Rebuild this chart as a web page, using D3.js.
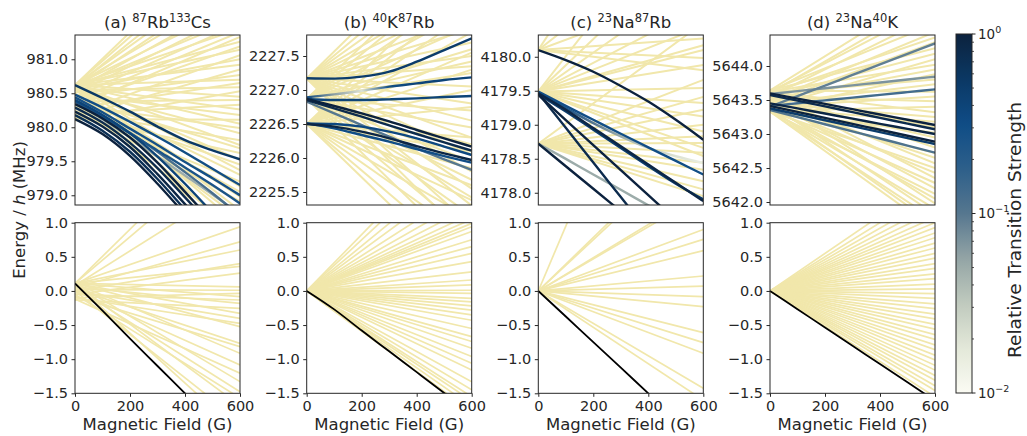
<!DOCTYPE html>
<html>
<head>
<meta charset="utf-8">
<script src="https://cdn.jsdelivr.net/npm/d3@7"></script>
<style>
  body { margin: 0; background: #fff; }
  svg text { font-family: "DejaVu Sans", sans-serif; fill: #262626; }
</style>
</head>
<body>
<svg id="chart" width="1027" height="436"></svg>
<script>
// ---- axes, ticks and labels ----
const fieldTicks = [0, 200, 400, 600];
const panelTags = ["(a) ", "(b) ", "(c) ", "(d) "];
const massNumbers = [["87", "133"], ["40", "87"], ["23", "87"], ["23", "40"]];
const atomSymbols = [["Rb", "Cs"], ["K", "Rb"], ["Na", "Rb"], ["Na", "K"]];
const upperRanges = [[978.857, 981.357], [2225.309, 2227.809], [4177.82, 4180.32], [5641.956, 5644.456]];
const upperTicks = [
  [979.0, 979.5, 980.0, 980.5, 981.0],
  [2225.5, 2226.0, 2226.5, 2227.0, 2227.5],
  [4178.0, 4178.5, 4179.0, 4179.5, 4180.0],
  [5642.0, 5642.5, 5643.0, 5643.5, 5644.0]
];
const lowerRange = [-1.5, 1.0];
const lowerTicks = [-1.5, -1.0, -0.5, 0.0, 0.5, 1.0];
const strengthMajor = [0.01, 0.1, 1];
const strengthExponents = ["\u22122", "\u22121", "0"];
const strengthMinor = [0.02, 0.03, 0.04, 0.05, 0.06, 0.07, 0.08, 0.09, 0.2, 0.3, 0.4, 0.5, 0.6, 0.7, 0.8, 0.9];
const strengthColours = ["#fbfbf3", "#e3e8d9", "#c0cabe", "#93a4a5", "#56778f", "#2d5f8a", "#0f4c86", "#0b3864", "#0c223e"];
const weakColour = "#f1e7ab";

// ---- excited-state levels (MHz), weak transitions: [E at 0 G, E at 600 G] ----
const paleRbCs = [
  [980.62, 982.95], [980.62, 982.75], [980.60, 982.55], [980.62, 982.35], [980.58, 982.20], [980.62, 982.05],
  [980.55, 981.90], [980.62, 981.80], [980.50, 981.70], [980.60, 981.60], [980.45, 981.52], [980.62, 981.45],
  [980.40, 981.40], [980.30, 981.33], [980.62, 981.26], [980.35, 981.19], [980.62, 981.14], [980.20, 981.06],
  [980.55, 981.00], [980.62, 980.92], [980.15, 980.85], [980.45, 980.77], [980.62, 980.70], [980.28, 980.65],
  [980.55, 980.59], [980.10, 980.53], [980.62, 980.45], [980.38, 980.40], [980.20, 980.33], [980.60, 980.26],
  [980.48, 980.18], [980.12, 980.11], [980.62, 980.05], [980.32, 979.99], [980.55, 979.91], [980.22, 979.81],
  [980.62, 979.74], [980.42, 979.69], [980.15, 979.62], [980.58, 979.52], [980.30, 979.45], [980.62, 979.37],
  [980.48, 979.30], [980.20, 979.20], [980.62, 979.13], [980.38, 979.05], [980.55, 978.98], [980.25, 978.91],
  [980.62, 978.78], [980.45, 978.66], [980.60, 978.55], [980.35, 978.45], [980.62, 978.36], [980.50, 978.28]
];
const paleKRb = [
  [2227.17, 2229.55], [2227.17, 2229.20], [2227.17, 2228.90], [2227.17, 2228.60], [2227.17, 2228.35],
  [2227.17, 2228.10], [2227.17, 2227.90], [2227.17, 2227.70], [2227.17, 2227.50], [2227.17, 2227.35],
  [2227.17, 2227.05], [2227.17, 2226.80], [2227.17, 2226.55], [2227.17, 2226.30], [2227.17, 2226.05],
  [2227.17, 2225.80], [2227.17, 2225.55], [2227.17, 2225.30], [2227.17, 2225.00], [2227.17, 2224.75],
  [2226.87, 2229.20], [2226.87, 2228.85], [2226.87, 2228.50], [2226.87, 2228.20], [2226.87, 2227.95],
  [2226.87, 2227.60], [2226.87, 2227.42], [2226.87, 2227.25], [2226.87, 2226.70], [2226.87, 2226.45],
  [2226.87, 2226.20], [2226.87, 2225.95], [2226.87, 2225.68], [2226.87, 2225.42], [2226.87, 2225.15],
  [2226.87, 2224.85], [2226.87, 2224.50],
  [2226.50, 2228.80], [2226.50, 2228.45], [2226.50, 2228.15], [2226.50, 2227.85], [2226.50, 2227.55],
  [2226.50, 2227.30], [2226.50, 2227.00], [2226.50, 2226.75], [2226.50, 2226.30], [2226.50, 2226.10],
  [2226.50, 2225.85], [2226.50, 2225.60], [2226.50, 2225.38], [2226.50, 2225.10], [2226.50, 2224.80],
  [2226.50, 2224.45], [2226.50, 2224.15]
];
const paleNaRb = [
  [4180.10, 4183.80], [4180.10, 4182.00], [4180.10, 4181.00], [4180.10, 4180.27], [4180.10, 4179.98], [4180.10, 4179.80],
  [4179.49, 4182.60], [4179.49, 4181.80], [4179.49, 4181.20], [4179.49, 4180.75], [4179.49, 4180.45], [4179.49, 4180.17],
  [4179.49, 4180.10], [4179.49, 4179.88], [4179.49, 4179.54], [4179.49, 4179.32], [4179.49, 4179.12], [4179.49, 4178.90],
  [4179.49, 4178.66], [4179.49, 4178.54],
  [4178.72, 4180.50], [4178.72, 4179.66], [4178.72, 4179.41], [4178.72, 4179.22], [4178.72, 4179.00], [4178.72, 4178.83],
  [4178.72, 4178.73], [4178.72, 4178.59], [4178.72, 4178.44], [4178.72, 4178.34], [4178.72, 4178.17], [4178.72, 4178.05],
  [4178.72, 4177.95]
];
const paleNaK = [
  [5643.64, 5645.15], [5643.60, 5645.00], [5643.62, 5644.88], [5643.55, 5644.75], [5643.64, 5644.62], [5643.50, 5644.50],
  [5643.60, 5644.42], [5643.45, 5644.35], [5643.64, 5644.26], [5643.55, 5644.18], [5643.40, 5644.10], [5643.62, 5644.02],
  [5643.50, 5643.95], [5643.36, 5643.88], [5643.60, 5643.80], [5643.45, 5643.73], [5643.64, 5643.62], [5643.40, 5643.55],
  [5643.55, 5643.48], [5643.34, 5643.40], [5643.62, 5643.32], [5643.45, 5643.25], [5643.38, 5643.18], [5643.58, 5643.10],
  [5643.33, 5643.02], [5643.50, 5642.95], [5643.40, 5642.88], [5643.62, 5642.80], [5643.35, 5642.72], [5643.45, 5642.65],
  [5643.55, 5642.57], [5643.33, 5642.50], [5643.42, 5642.43], [5643.60, 5642.35], [5643.36, 5642.28], [5643.48, 5642.20],
  [5643.33, 5642.12], [5643.40, 5642.05], [5643.55, 5641.98], [5643.35, 5641.90], [5643.44, 5641.82], [5643.33, 5641.74],
  [5643.38, 5641.66], [5643.33, 5641.59]
];

// ---- strong transitions: energies at 0, 100, ... 600 G and relative strength ----
const strongRbCs = [
  { e: [980.62, 980.43, 980.23, 980.01, 979.81, 979.66, 979.53], s: 0.55 },
  { e: [980.48, 980.29, 980.08, 979.86, 979.63, 979.39, 979.15], s: 0.3 },
  { e: [980.44, 980.22, 979.98, 979.74, 979.49, 979.25, 979.00], s: 0.28 },
  { e: [980.38, 980.15, 979.91, 979.66, 979.41, 979.15, 978.88], s: 0.25 },
  { e: [980.36, 980.12, 979.85, 979.57, 979.29, 979.01, 978.72], s: 0.05 },
  { e: [980.40, 980.17, 979.92, 979.64, 979.34, 979.03, 978.70], s: 0.12 },
  { e: [980.40, 980.18, 979.91, 979.57, 979.17, 978.74, 978.29], s: 0.4 },
  { e: [980.34, 980.13, 979.85, 979.48, 979.05, 978.61, 978.17], s: 1.0 },
  { e: [980.29, 980.07, 979.77, 979.40, 978.97, 978.53, 978.09], s: 0.8 },
  { e: [980.23, 980.01, 979.71, 979.31, 978.87, 978.42, 977.96], s: 0.9 },
  { e: [980.18, 979.95, 979.64, 979.24, 978.79, 978.34, 977.89], s: 0.7 },
  { e: [980.12, 979.90, 979.58, 979.17, 978.72, 978.27, 977.82], s: 1.0 }
];
const strongKRb = [
  { e: [2227.172, 2227.167, 2227.196, 2227.270, 2227.417, 2227.588, 2227.760], s: 0.5 },
  { e: [2226.892, 2226.936, 2226.990, 2227.049, 2227.098, 2227.147, 2227.186], s: [0.35, 0.06, 0.02, 0.3, 0.4, 0.4, 0.4] },
  { e: [2226.868, 2226.853, 2226.853, 2226.863, 2226.877, 2226.897, 2226.912], s: 0.4 },
  { e: [2226.868, 2226.765, 2226.657, 2226.539, 2226.412, 2226.289, 2226.167], s: 1.0 },
  { e: [2226.853, 2226.730, 2226.608, 2226.480, 2226.353, 2226.230, 2226.108], s: 0.8 },
  { e: [2226.828, 2226.657, 2226.485, 2226.314, 2226.142, 2225.980, 2225.824], s: 0.1 },
  { e: [2226.510, 2226.500, 2226.461, 2226.387, 2226.289, 2226.167, 2226.044], s: 0.35 },
  { e: [2226.500, 2226.461, 2226.387, 2226.289, 2226.176, 2226.069, 2225.971], s: 0.9 },
  { e: [2226.510, 2226.436, 2226.338, 2226.240, 2226.132, 2226.029, 2225.931], s: 0.3 }
];
const strongNaRb = [
  { e: [4180.098, 4179.951, 4179.780, 4179.571, 4179.341, 4179.073, 4178.780], s: 1.0 },
  { e: [4179.488, 4179.278, 4179.073, 4178.868, 4178.668, 4178.468, 4178.268], s: 0.3 },
  { e: [4179.463, 4179.244, 4179.024, 4178.829, 4178.659, 4178.537, 4178.439], s: [0.4, 0.25, 0.1, 0.05, 0.03, 0.02, 0.015] },
  { e: [4179.463, 4179.220, 4178.951, 4178.683, 4178.415, 4178.146, 4177.878], s: 0.9 },
  { e: [4179.449, 4179.195, 4178.927, 4178.659, 4178.390, 4178.132, 4177.902], s: 0.5 },
  { e: [4179.439, 4179.068, 4178.702, 4178.332, 4177.966, 4177.595, 4177.229], s: 1.0 },
  { e: [4179.463, 4178.956, 4178.444, 4177.937, 4177.429, 4176.917, 4176.410], s: 0.8 },
  { e: [4178.722, 4178.390, 4178.059, 4177.727, 4177.395, 4177.063, 4176.732], s: 1.0 },
  { e: [4178.722, 4178.498, 4178.268, 4178.044, 4177.815, 4177.590, 4177.361], s: 0.05 }
];
const strongNaK = [
  { e: [5643.402, 5643.557, 5643.712, 5643.868, 5644.023, 5644.178, 5644.333], s: 0.09 },
  { e: [5643.588, 5643.631, 5643.673, 5643.716, 5643.758, 5643.801, 5643.843], s: 0.07 },
  { e: [5643.412, 5643.453, 5643.494, 5643.535, 5643.575, 5643.616, 5643.657], s: 0.13 },
  { e: [5643.598, 5643.520, 5643.443, 5643.365, 5643.287, 5643.210, 5643.132], s: 1.0 },
  { e: [5643.574, 5643.490, 5643.406, 5643.321, 5643.237, 5643.153, 5643.069], s: 0.8 },
  { e: [5643.451, 5643.376, 5643.301, 5643.226, 5643.150, 5643.075, 5643.000], s: 0.9 },
  { e: [5643.412, 5643.325, 5643.237, 5643.150, 5643.062, 5642.975, 5642.887], s: 1.0 },
  { e: [5643.377, 5643.290, 5643.202, 5643.115, 5643.028, 5642.940, 5642.853], s: 0.5 },
  { e: [5643.353, 5643.248, 5643.144, 5643.039, 5642.934, 5642.830, 5642.725], s: 0.11 }
];

// ---- ground-state levels (MHz): [E at 0 G, E at 600 G] ----
const paleRbCsLow = [
  [0.11, 2.49], [0.11, 2.16], [0.08, 1.60], [0.11, 0.94], [0.05, 0.72], [0.11, 0.60], [0.0, 0.40], [0.11, 0.36],
  [-0.05, 0.26], [0.11, 0.06], [0.02, 0.01], [-0.10, -0.035], [0.11, -0.084], [-0.05, -0.133], [0.06, -0.182],
  [-0.13, -0.255], [0.11, -0.328], [0.0, -0.401], [-0.10, -0.474], [0.11, -0.523], [0.03, -0.768], [-0.08, -0.816],
  [0.11, -0.914], [0.0, -1.085], [-0.12, -1.207], [0.11, -1.329], [0.05, -1.476], [-0.05, -1.57], [0.11, -1.68],
  [0.0, -1.91], [0.11, -2.08]
];
const paleKRbLow = [
  [0, 2.48], [0, 2.25], [0, 1.98], [0, 1.77], [0, 1.55], [0, 1.38], [0, 1.24], [0, 1.13], [0, 1.05], [0, 0.99],
  [0, 0.94], [0, 0.87], [0, 0.75], [0, 0.65], [0, 0.55], [0, 0.43], [0, 0.28], [0, 0.16], [0, 0.09], [0, 0.01],
  [0, -0.035], [0, -0.11], [0, -0.16], [0, -0.22], [0, -0.28], [0, -0.35], [0, -0.43], [0, -0.55], [0, -0.67],
  [0, -0.74], [0, -0.84], [0, -0.96], [0, -1.06], [0, -1.16], [0, -1.33], [0, -1.45], [0, -1.55], [0, -1.61],
  [0, -1.69], [0, -1.77]
];
const paleNaRbLow = [
  [0, 5.7], [0, 2.35], [0, 2.25], [0, 1.46], [0, 1.41], [0, 0.90], [0, 0.756], [0, 0.59], [0, 0.219], [0, 0.072],
  [0, -0.084], [0, -0.23], [0, -0.611], [0, -0.758], [0, -0.914], [0, -1.427], [0, -1.60]
];
const paleNaKLow = [
  [0, 1.65], [0, 1.50], [0, 1.38], [0, 1.27], [0, 1.17], [0, 1.08], [0, 1.00], [0, 0.93], [0, 0.85], [0, 0.78],
  [0, 0.70], [0, 0.63], [0, 0.55], [0, 0.48], [0, 0.40], [0, 0.33], [0, 0.25], [0, 0.18], [0, 0.10], [0, 0.03],
  [0, -0.04], [0, -0.11], [0, -0.19], [0, -0.26], [0, -0.34], [0, -0.41], [0, -0.49], [0, -0.56], [0, -0.64],
  [0, -0.71], [0, -0.79], [0, -0.86], [0, -0.94], [0, -1.01], [0, -1.09], [0, -1.16], [0, -1.24], [0, -1.31],
  [0, -1.39], [0, -1.46], [0, -1.55]
];
// initial (lowest) ground level at 0, 100, ... 600 G
const groundRbCs = [0.11, -0.29, -0.70, -1.10, -1.50, -1.90, -2.30];
const groundKRb = [0.0, -0.27, -0.58, -0.885, -1.19, -1.495, -1.80];
const groundNaRb = [0.0, -0.375, -0.75, -1.125, -1.5, -1.875, -2.25];
const groundNaK = [0.0, -0.268, -0.536, -0.804, -1.071, -1.339, -1.607];

const upperPale = [paleRbCs, paleKRb, paleNaRb, paleNaK];
const upperStrong = [strongRbCs, strongKRb, strongNaRb, strongNaK];
const lowerPale = [paleRbCsLow, paleKRbLow, paleNaRbLow, paleNaKLow];
const lowerGround = [groundRbCs, groundKRb, groundNaRb, groundNaK];

// ---- layout ----
const svg = d3.select("#chart");
const defs = svg.append("defs");
const colLeft = [75, 306.7, 538.3, 770];
const panelW = 165;
const rowTop = [35, 222.7];
const rowH = [170, 170.6];
const tickFont = "14.5px";
const labelFont = "16.5px";
const frameColour = "#262626";

const strengthPos = d3.scaleLog().domain([0.01, 1]).range([0, 1]).clamp(true);
const strengthRamp = d3.piecewise(d3.interpolateRgb, strengthColours);
const strengthColour = s => strengthRamp(strengthPos(s));
const minus = s => s.replace("-", "\u2212");
const fmt = v => minus(d3.format(".1f")(v));

function fieldPoints(e) {
  return e.map((v, i) => [600 * i / (e.length - 1), v]);
}
function meanStrength(s) {
  return Array.isArray(s) ? d3.mean(s) : s;
}

let gradCount = 0;
function drawPanel(col, row) {
  const g = svg.append("g").attr("transform", `translate(${colLeft[col]},${rowTop[row]})`);
  const h = rowH[row];
  const x = d3.scaleLinear().domain([0, 600]).range([0, panelW]);
  const y = d3.scaleLinear().domain(row === 0 ? upperRanges[col] : lowerRange).range([h, 0]);
  const clipId = `clip-${row}-${col}`;
  defs.append("clipPath").attr("id", clipId)
    .append("rect").attr("width", panelW).attr("height", h);
  const plot = g.append("g").attr("clip-path", `url(#${clipId})`);
  const straight = d3.line().x(d => x(d[0])).y(d => y(d[1]));
  const smooth = d3.line().x(d => x(d[0])).y(d => y(d[1])).curve(d3.curveMonotoneX);

  const pale = row === 0 ? upperPale[col] : lowerPale[col];
  plot.selectAll("path.weak").data(pale).join("path")
    .attr("class", "weak")
    .attr("d", d => straight(fieldPoints(d)))
    .attr("fill", "none")
    .attr("stroke", weakColour)
    .attr("stroke-width", row === 0 ? 2 : 1.7);

  if (row === 0) {
    const strong = upperStrong[col].slice().sort((a, b) => meanStrength(a.s) - meanStrength(b.s));
    strong.forEach(d => {
      let stroke;
      if (Array.isArray(d.s)) {
        const id = `fade-${gradCount++}`;
        const grad = defs.append("linearGradient").attr("id", id)
          .attr("gradientUnits", "userSpaceOnUse")
          .attr("x1", x(0)).attr("x2", x(600)).attr("y1", 0).attr("y2", 0);
        d.s.forEach((s, i) => grad.append("stop")
          .attr("offset", i / (d.s.length - 1))
          .attr("stop-color", strengthColour(s)));
        stroke = `url(#${id})`;
      } else {
        stroke = strengthColour(d.s);
      }
      plot.append("path")
        .attr("d", smooth(fieldPoints(d.e)))
        .attr("fill", "none")
        .attr("stroke", stroke)
        .attr("stroke-width", 2.4);
    });
  } else {
    plot.append("path")
      .attr("d", smooth(fieldPoints(lowerGround[col])))
      .attr("fill", "none")
      .attr("stroke", "#000")
      .attr("stroke-width", 1.8);
  }

  // frame
  g.append("rect").attr("width", panelW).attr("height", h)
    .attr("fill", "none").attr("stroke", frameColour).attr("stroke-width", 1);

  // y axis
  const yAxis = d3.axisLeft(y)
    .tickValues(row === 0 ? upperTicks[col] : lowerTicks)
    .tickFormat(fmt).tickSize(3.5).tickPadding(3.5);
  const ya = g.append("g").call(yAxis);
  ya.select(".domain").remove();
  ya.selectAll("line").attr("stroke", frameColour);
  ya.selectAll("text").style("font-size", tickFont).attr("fill", "#262626")
    .style("font-family", "DejaVu Sans");

  if (row === 1) {
    const xAxis = d3.axisBottom(x).tickValues(fieldTicks)
      .tickFormat(d3.format("d")).tickSize(3.5).tickPadding(3.5);
    const xa = g.append("g").attr("transform", `translate(0,${h})`).call(xAxis);
    xa.select(".domain").remove();
    xa.selectAll("line").attr("stroke", frameColour);
    xa.selectAll("text").style("font-size", tickFont).attr("fill", "#262626")
      .style("font-family", "DejaVu Sans");
    g.append("text")
      .attr("x", panelW / 2).attr("y", 430 - rowTop[1])
      .attr("text-anchor", "middle").style("font-size", labelFont)
      .text("Magnetic Field (G)");
  } else {
    const t = g.append("text").attr("x", panelW / 2).attr("y", 28 - rowTop[0])
      .attr("text-anchor", "middle").style("font-size", labelFont);
    t.append("tspan").text(panelTags[col]);
    t.append("tspan").attr("dy", "-6px").style("font-size", "11.5px").text(massNumbers[col][0]);
    t.append("tspan").attr("dy", "6px").text(atomSymbols[col][0]);
    t.append("tspan").attr("dy", "-6px").style("font-size", "11.5px").text(massNumbers[col][1]);
    t.append("tspan").attr("dy", "6px").text(atomSymbols[col][1]);
  }
}

for (let row = 0; row < 2; row++) {
  for (let col = 0; col < 4; col++) drawPanel(col, row);
}

// shared energy label
const yl = svg.append("text")
  .attr("transform", "translate(25,210) rotate(-90)")
  .attr("text-anchor", "middle").style("font-size", labelFont);
yl.append("tspan").text("Energy / ");
yl.append("tspan").style("font-style", "italic").text("h");
yl.append("tspan").text(" (MHz)");

// colour bar
const cbX = 956, cbW = 16, cbTop = 34, cbBottom = 393;
const cbGrad = defs.append("linearGradient").attr("id", "cbar")
  .attr("x1", 0).attr("x2", 0).attr("y1", 1).attr("y2", 0);
d3.range(0, 1.0001, 0.02).forEach(t => cbGrad.append("stop")
  .attr("offset", t).attr("stop-color", strengthRamp(t)));
svg.append("rect").attr("x", cbX).attr("y", cbTop).attr("width", cbW).attr("height", cbBottom - cbTop)
  .attr("fill", "url(#cbar)").attr("stroke", frameColour).attr("stroke-width", 1);

const cbScale = d3.scaleLog().domain([0.01, 1]).range([cbBottom, cbTop]);
const cbg = svg.append("g");
cbg.selectAll("line.major").data(strengthMajor).join("line")
  .attr("x1", cbX + cbW).attr("x2", cbX + cbW + 3.5)
  .attr("y1", d => cbScale(d)).attr("y2", d => cbScale(d))
  .attr("stroke", frameColour);
cbg.selectAll("line.minor").data(strengthMinor).join("line")
  .attr("x1", cbX + cbW).attr("x2", cbX + cbW + 2)
  .attr("y1", d => cbScale(d)).attr("y2", d => cbScale(d))
  .attr("stroke", frameColour).attr("stroke-width", 0.8);
strengthMajor.forEach((v, i) => {
  const t = cbg.append("text").attr("x", cbX + cbW + 6).attr("y", cbScale(v))
    .attr("dy", "0.35em").style("font-size", "13.5px");
  t.append("tspan").text("10");
  t.append("tspan").attr("dy", "-6px").style("font-size", "9.5px").text(strengthExponents[i]);
});

svg.append("text")
  .attr("transform", "translate(1021,230) rotate(-90)")
  .attr("text-anchor", "middle").style("font-size", "18.5px")
  .text("Relative Transition Strength");
</script>
</body>
</html>
